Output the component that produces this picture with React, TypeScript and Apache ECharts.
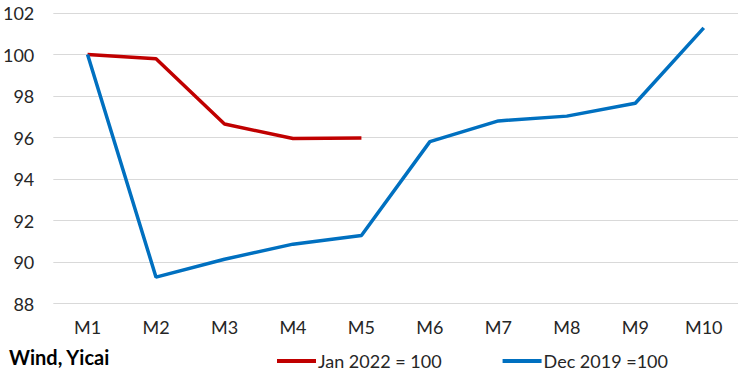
import React, { useEffect, useRef } from "react";
import * as echarts from "echarts";

const categories = ["M1", "M2", "M3", "M4", "M5", "M6", "M7", "M8", "M9", "M10"];
const jan2022 = [100, 99.8, 96.65, 95.95, 95.98, null, null, null, null, null];
const dec2019 = [100, 89.27, 90.13, 90.86, 91.28, 95.8, 96.8, 97.03, 97.65, 101.28];
const yTicks = { min: 88, max: 102, interval: 2 };
const seriesNames = ["Jan 2022 = 100", "Dec 2019 =100"];
const sourceText = "Wind, Yicai";

const FONT = "Lato, 'Open Sans', sans-serif";

export default function App() {
  const ref = useRef<HTMLDivElement>(null);
  useEffect(() => {
    if (!ref.current) return;
    const chart = echarts.init(ref.current, null, { renderer: "svg" });
    chart.setOption({
      animation: false,
      backgroundColor: "#ffffff",
      grid: { left: 53, right: 7, top: 13, bottom: 70.5, containLabel: false },
      xAxis: {
        type: "category",
        data: categories,
        boundaryGap: true,
        axisLine: { show: false },
        axisTick: { show: false },
        axisLabel: { color: "#262626", fontSize: 18, fontFamily: FONT, margin: 14 },
      },
      yAxis: {
        type: "value",
        min: yTicks.min,
        max: yTicks.max,
        interval: yTicks.interval,
        axisLine: { show: false },
        axisTick: { show: false },
        axisLabel: { color: "#262626", fontSize: 18, fontFamily: FONT, margin: 19 },
        splitLine: { lineStyle: { color: "#d9d9d9", width: 1 } },
      },
      legend: {
        top: 352,
        left: 277,
        padding: 0,
        itemGap: 61,
        itemWidth: 39,
        itemHeight: 4,
        icon: "rect",
        textStyle: { fontSize: 18, fontFamily: FONT, color: "#262626", padding: [0, 0, 0, -3] },
        data: seriesNames,
      },
      graphic: [
        {
          type: "text",
          left: 9,
          top: 347,
          style: { text: sourceText, font: `bold 20px ${FONT}`, fill: "#000" },
        },
      ],
      series: [
        {
          name: seriesNames[0],
          type: "line",
          data: jan2022,
          symbol: "none",
          color: "#C00000",
          lineStyle: { width: 3.5, color: "#C00000" },
        },
        {
          name: seriesNames[1],
          type: "line",
          data: dec2019,
          symbol: "none",
          color: "#0070C0",
          lineStyle: { width: 3.5, color: "#0070C0" },
        },
      ],
    });
    return () => chart.dispose();
  }, []);
  return (
    <div
      ref={ref}
      style={{ position: "fixed", left: 0, top: 0, width: 745, height: 374 }}
    />
  );
}
